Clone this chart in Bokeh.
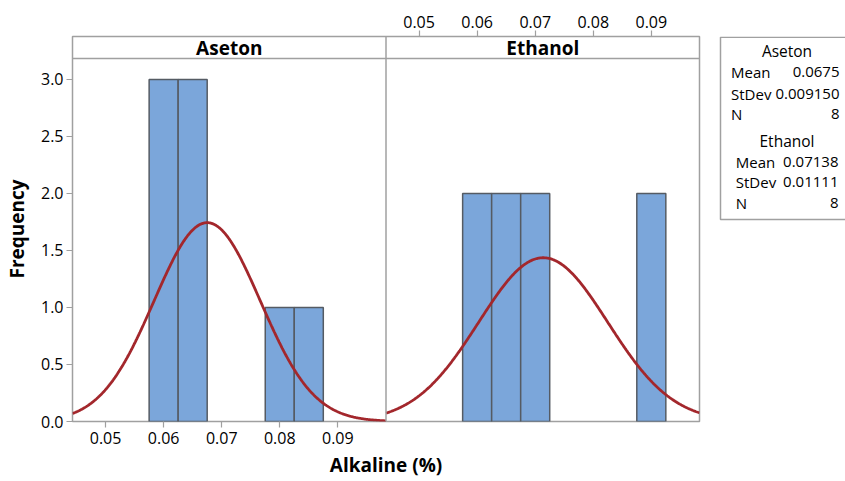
import numpy as np
from bokeh.plotting import figure
from bokeh.models import Range1d, LinearAxis, FixedTicker, NumeralTickFormatter
from bokeh.layouts import row
from bokeh.core.properties import value
from bokeh.embed import file_html
from bokeh.resources import INLINE

# Histogram bins (midpoints, width) and counts per group
bin_width = 0.005
aseton_mids = [0.060, 0.065, 0.080, 0.085]
aseton_counts = [3, 3, 1, 1]
ethanol_mids = [0.060, 0.065, 0.070, 0.090]
ethanol_counts = [2, 2, 2, 2]

# Summary statistics shown in the side table
groups = ["Aseton", "Ethanol"]
means = [0.0675, 0.07138]
stdevs = [0.009150, 0.01111]
counts_n = [8, 8]

x_ticks = [0.05, 0.06, 0.07, 0.08, 0.09]
y_ticks = [0.0, 0.5, 1.0, 1.5, 2.0, 2.5, 3.0]

FONT = "Open Sans"
BAR_FILL = "#7BA6DA"
BAR_LINE = "#555B63"
CURVE = "#A3272C"
FRAME = "#A0A0A0"
INK = "#000000"

# x window of each panel; the two panels sit side by side in one frame
lo, hi = 0.0443, 0.0983
span = hi - lo
y_top = 3.377        # top of frame (includes header strip)
strip_base = 3.184   # bottom of header strip

BORDER_TOP, BORDER_BOTTOM = 36, 60

p = figure(width=710, height=481, output_backend="svg", toolbar_location=None,
           x_range=Range1d(lo, hi + span), y_range=Range1d(0, y_top),
           min_border_left=71, min_border_right=11, min_border_top=BORDER_TOP,
           min_border_bottom=BORDER_BOTTOM)
p.extra_x_ranges = {"right": Range1d(lo - span, hi)}
p.xgrid.visible = False
p.ygrid.visible = False
p.outline_line_color = FRAME
p.outline_line_width = 1.5
p.background_fill_color = "white"

def style_axis(ax):
    ax.axis_line_color = None
    ax.major_tick_line_color = FRAME
    ax.major_tick_line_width = 1.2
    ax.major_tick_out = 6
    ax.major_tick_in = 0
    ax.minor_tick_line_color = None
    ax.major_label_text_font = FONT
    ax.major_label_text_font_size = "16px"
    ax.major_label_text_color = INK
    ax.axis_label_text_font = FONT
    ax.axis_label_text_font_size = "19px"
    ax.axis_label_text_font_style = "bold"
    ax.axis_label_text_color = INK

# bottom axis belongs to the left panel
xb = p.xaxis[0]
xb.ticker = FixedTicker(ticks=x_ticks)
xb.formatter = NumeralTickFormatter(format="0.00")
xb.axis_label = "Alkaline (%)"
xb.major_label_standoff = 4
xb.axis_label_standoff = 5
style_axis(xb)

yl = p.yaxis[0]
yl.ticker = FixedTicker(ticks=y_ticks)
yl.formatter = NumeralTickFormatter(format="0.0")
yl.axis_label = "Frequency"
yl.major_label_standoff = 3
yl.axis_label_standoff = 8
style_axis(yl)

# top axis belongs to the right panel
xt = LinearAxis(x_range_name="right", ticker=FixedTicker(ticks=x_ticks),
                formatter=NumeralTickFormatter(format="0.00"))
xt.major_label_standoff = 3
style_axis(xt)
p.add_layout(xt, "above")

panels = [
    ("default", aseton_mids, aseton_counts, means[0], stdevs[0], counts_n[0], groups[0]),
    ("right", ethanol_mids, ethanol_counts, means[1], stdevs[1], counts_n[1], groups[1]),
]

for rng, mids, cnts, mu, sd, n, name in panels:
    p.vbar(x=mids, width=bin_width, top=cnts, bottom=0, x_range_name=rng,
           fill_color=BAR_FILL, line_color=BAR_LINE, line_width=1.5)
    xs = np.linspace(lo, hi, 400)
    ys = n * bin_width * np.exp(-0.5 * ((xs - mu) / sd) ** 2) / (sd * np.sqrt(2 * np.pi))
    p.line(xs, ys, x_range_name=rng, line_color=CURVE, line_width=2.8)
    p.text(x=[(lo + hi) / 2], y=[(strip_base + y_top) / 2], text=[name],
           x_range_name=rng, text_font=value(FONT), text_font_size="19px",
           text_font_style="bold", text_align="center", text_baseline="middle",
           text_color=INK)

# header strip rule and panel divider
p.segment(x0=[lo], y0=[strip_base], x1=[hi + span], y1=[strip_base],
          line_color=FRAME, line_width=1.5)
p.segment(x0=[hi], y0=[0], x1=[hi], y1=[y_top], line_color=FRAME, line_width=1.5)

# side table with the summary statistics; its frame lines up with the main
# frame, so its y range runs over the same pixel rows (top to bottom)
s = figure(width=135, height=481, output_backend="svg", toolbar_location=None,
           x_range=Range1d(0, 135), y_range=Range1d(481 - BORDER_BOTTOM, BORDER_TOP),
           min_border=0, min_border_left=0, min_border_right=0,
           min_border_top=BORDER_TOP, min_border_bottom=BORDER_BOTTOM)
s.axis.visible = False
s.grid.visible = False
s.outline_line_color = None
s.quad(left=[10], right=[140], top=[36.8], bottom=[219], fill_color="white",
       line_color=FRAME, line_width=1.5)

head_y = [50.7, 140.0]
row_y = [[71.7, 93.3, 113.3], [161.0, 181.7, 202.3]]
label_x = [20.5, 25.3]
value_x = [129.0, 128.0]
for i, g in enumerate(groups):
    s.text(x=[76.5], y=[head_y[i]], text=[g], text_font=value(FONT),
           text_font_size="15.5px", text_align="center", text_baseline="middle",
           text_color=INK)
    vals = [f"{means[i]:.4g}", f"{stdevs[i]:#.4g}", f"{counts_n[i]}"]
    s.text(x=[label_x[i]] * 3, y=row_y[i], text=["Mean", "StDev", "N"],
           text_font=value(FONT), text_font_size="15px", text_align="left",
           text_baseline="middle", text_color=INK)
    s.text(x=[value_x[i]] * 3, y=row_y[i], text=vals,
           text_font=value(FONT), text_font_size="15px", text_align="right",
           text_baseline="middle", text_color=INK)

layout = row(p, s)
open("out.html", "w").write(file_html(layout, INLINE))
